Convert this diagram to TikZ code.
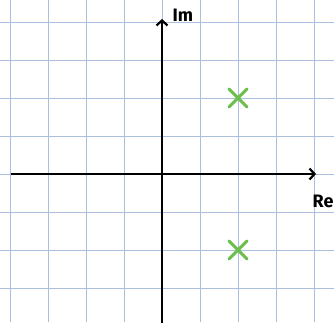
\documentclass[tikz,border=0pt]{standalone}
\usepackage{fontspec}
\setmainfont{Fira Sans}
\usetikzlibrary{arrows.meta,shapes.misc}
\definecolor{gridblue}{HTML}{A9BFDD}
\definecolor{polegreen}{HTML}{6CBF4A}
\tikzset{
  gridline/.style={draw=gridblue, line width=1.1pt},
  axisline/.style={draw=black, line width=2.6pt, -{Straight Barb[length=5pt,width=11pt,line width=2.2pt]}},
  pole/.style={cross out, draw=polegreen, line width=3pt, line cap=round, minimum size=15pt, inner sep=0pt},
  axlabel/.style={font=\bfseries\fontsize{18}{18}\selectfont, inner sep=0pt, anchor=west}
}
\begin{document}
\begin{tikzpicture}[x=1pt,y=1pt]
\useasboundingbox (0,0) rectangle (334,322);
\fill[white] (0,0) rectangle (334,322);
\foreach \k in {0,...,8} {
  \draw[gridline] ({10.5+38*\k},0) -- ({10.5+38*\k},322);
}
\foreach \k in {0,...,7} {
  \draw[gridline] (0,{299.5-38*\k}) -- (334,{299.5-38*\k});
}
\coordinate (xl) at (10.5,148);
\coordinate (xr) at (316,148);
\coordinate (yb) at (162,-2);
\coordinate (yt) at (162,303);
\draw[axisline] (xl) -- (xr);
\draw[axisline] (yb) -- (yt);
\node[pole] (p1) at (238,224) {};
\node[pole] (p2) at (238,72) {};
\node[axlabel] (im) at (172.5,306.5) {Im};
\node[axlabel] (re) at (312.5,121) {Re};
\end{tikzpicture}
\end{document}
